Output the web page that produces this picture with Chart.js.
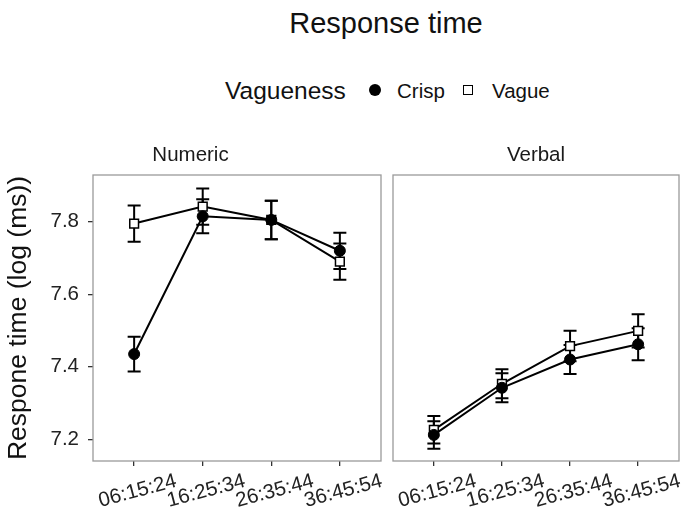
<!DOCTYPE html>
<html>
<head>
<meta charset="utf-8">
<script src="https://cdn.jsdelivr.net/npm/chart.js@4"></script>
<style>
  body { margin: 0; background: #fff; }
  #wrap { position: relative; width: 682px; height: 507px; font-family: "Liberation Sans", Arial, sans-serif; color: #111; }
  #wrap canvas { position: absolute; top: 140px; }
  .txt { position: absolute; white-space: nowrap; line-height: 1; }
  .mark { position: absolute; box-sizing: border-box; }
</style>
</head>
<body>
<div id="wrap">
  <div class="txt" id="title" style="left:0; width:772px; text-align:center; top:9px; font-size:29px;">Response time</div>
  <div class="txt" style="left:225px; top:79px; font-size:24.5px;">Vagueness</div>
  <div class="mark" style="left:369px; top:84px; width:12px; height:12px; border-radius:50%; background:#000;"></div>
  <div class="txt" style="left:397px; top:81px; font-size:20.5px;">Crisp</div>
  <div class="mark" style="left:463px; top:85px; width:10px; height:10px; border:1.5px solid #000; background:#fff;"></div>
  <div class="txt" style="left:492px; top:81px; font-size:20.5px;">Vague</div>
  <canvas id="numericChart" width="390" height="367" style="left:0;"></canvas>
  <canvas id="verbalChart" width="292" height="367" style="left:390px;"></canvas>
</div>
<script>
// categories and ticks
const timeLabels = ['06:15:24', '16:25:34', '26:35:44', '36:45:54'];
const yTicks = [7.2, 7.4, 7.6, 7.8];

// Numeric panel (mean and error half-width)
const numericCrisp = [7.435, 7.815, 7.805, 7.72];
const numericCrispErr = [0.048, 0.047, 0.053, 0.05];
const numericVague = [7.795, 7.842, 7.805, 7.69];
const numericVagueErr = [0.05, 0.05, 0.053, 0.05];

// Verbal panel
const verbalCrisp = [7.212, 7.342, 7.42, 7.462];
const verbalCrispErr = [0.038, 0.04, 0.04, 0.044];
const verbalVague = [7.226, 7.353, 7.457, 7.499];
const verbalVagueErr = [0.038, 0.04, 0.042, 0.046];

const FONT = '"Liberation Sans", Arial, sans-serif';

// error bars drawn under the lines and points
const errorBarPlugin = {
    id: 'errorBars',
    beforeDatasetsDraw(chart) {
        const ctx = chart.ctx;
        const xs = chart.scales.x, ys = chart.scales.y;
        ctx.save();
        ctx.strokeStyle = '#000';
        ctx.lineWidth = 2;
        chart.data.datasets.forEach(ds => {
            ds.data.forEach((pt, i) => {
                const e = ds.errors[i];
                const px = xs.getPixelForValue(pt.x);
                const top = ys.getPixelForValue(pt.y + e);
                const bot = ys.getPixelForValue(pt.y - e);
                ctx.beginPath();
                ctx.moveTo(px, top); ctx.lineTo(px, bot);
                ctx.moveTo(px - 6.5, top); ctx.lineTo(px + 6.5, top);
                ctx.moveTo(px - 6.5, bot); ctx.lineTo(px + 6.5, bot);
                ctx.stroke();
            });
        });
        ctx.restore();
    }
};

// grey frame round each panel
const panelBorderPlugin = {
    id: 'panelBorder',
    afterDraw(chart) {
        const a = chart.chartArea;
        const ctx = chart.ctx;
        ctx.save();
        ctx.strokeStyle = '#9a9a9a';
        ctx.lineWidth = 1.3;
        ctx.strokeRect(a.left, a.top, a.right - a.left, a.bottom - a.top);
        ctx.restore();
    }
};

function toPoints(values) {
    return values.map((v, i) => ({ x: i, y: v }));
}

function createPanel(canvasId, stripLabel, crisp, crispErr, vague, vagueErr, showY) {
    const ctx = document.getElementById(canvasId).getContext('2d');
    return new Chart(ctx, {
        type: 'line',
        data: {
            datasets: [
                {
                    label: 'Crisp',
                    data: toPoints(crisp),
                    errors: crispErr,
                    borderColor: '#000',
                    borderWidth: 2,
                    pointStyle: 'circle',
                    pointRadius: 5.5,
                    pointBackgroundColor: '#000',
                    pointBorderColor: '#000',
                    pointBorderWidth: 1
                },
                {
                    label: 'Vague',
                    data: toPoints(vague),
                    errors: vagueErr,
                    borderColor: '#000',
                    borderWidth: 2,
                    pointStyle: 'rect',
                    pointRadius: 6.2,
                    pointBackgroundColor: '#fff',
                    pointBorderColor: '#000',
                    pointBorderWidth: 1.5
                }
            ]
        },
        options: {
            responsive: false,
            animation: false,
            layout: {
                autoPadding: false,
                padding: showY ? { left: 0, right: 9, top: 0, bottom: 0 } : { left: 3, right: 3, top: 0, bottom: 0 }
            },
            plugins: {
                legend: { display: false },
                tooltip: { enabled: false },
                title: {
                    display: true,
                    text: stripLabel,
                    color: '#1a1a1a',
                    font: { family: FONT, size: 20.5, weight: 'normal' },
                    padding: { top: 3.2, bottom: 7.2 }
                }
            },
            scales: {
                x: {
                    type: 'linear',
                    min: -0.6,
                    max: 3.6,
                    afterBuildTicks: scale => { scale.ticks = timeLabels.map((_, i) => ({ value: i })); },
                    afterFit: scale => { scale.height = 46; scale.paddingLeft = 0; scale.paddingRight = 0; },
                    grid: { drawOnChartArea: false, drawTicks: true, tickLength: 5, color: '#333', lineWidth: 1.3 },
                    border: { display: false },
                    ticks: {
                        autoSkip: false,
                        minRotation: 15,
                        maxRotation: 15,
                        padding: 3,
                        labelOffset: 42,
                        color: '#222',
                        font: { family: FONT, size: 20.5 },
                        callback: value => timeLabels[Math.round(value)]
                    }
                },
                y: {
                    display: showY,
                    min: 7.14,
                    max: 7.929,
                    afterBuildTicks: scale => { scale.ticks = yTicks.map(v => ({ value: v })); },
                    afterFit: scale => {
                        scale.width = showY ? 93 : 0;
                        scale.paddingTop = 0;
                        scale.paddingBottom = 0;
                    },
                    grid: { drawOnChartArea: false, drawTicks: true, tickLength: 5, color: '#333', lineWidth: 1.3 },
                    border: { display: false },
                    title: {
                        display: true,
                        text: 'Respone time (log (ms))',
                        color: '#111',
                        font: { family: FONT, size: 26.5 },
                        padding: { top: 3, bottom: 0 }
                    },
                    ticks: {
                        padding: 9,
                        color: '#222',
                        font: { family: FONT, size: 20.5 },
                        callback: value => value.toFixed(1)
                    }
                }
            }
        },
        plugins: [errorBarPlugin, panelBorderPlugin]
    });
}

document.addEventListener('DOMContentLoaded', function () {
    createPanel('numericChart', 'Numeric', numericCrisp, numericCrispErr, numericVague, numericVagueErr, true);
    createPanel('verbalChart', 'Verbal', verbalCrisp, verbalCrispErr, verbalVague, verbalVagueErr, false);
});
</script>
</body>
</html>
